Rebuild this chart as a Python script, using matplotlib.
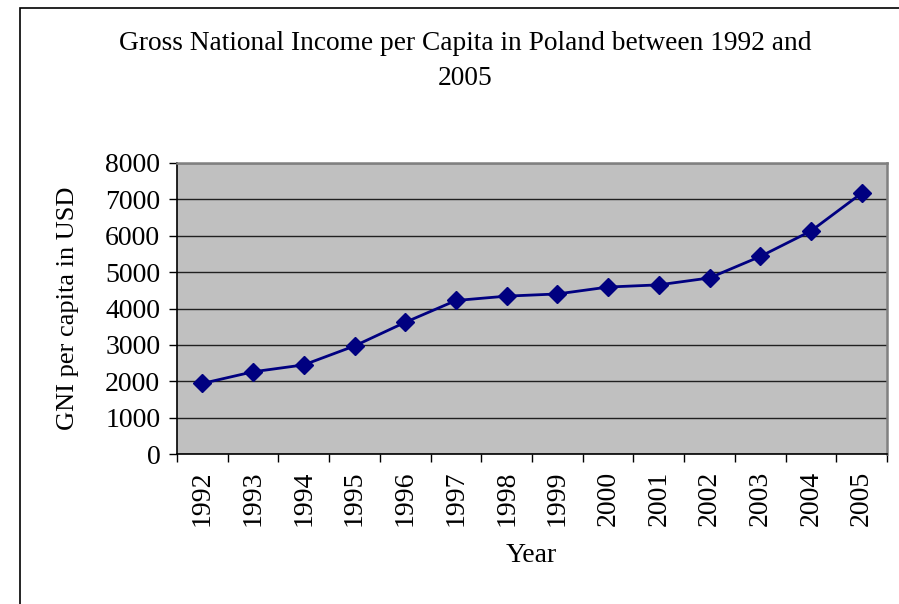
import matplotlib
matplotlib.use('Agg')
import matplotlib.pyplot as plt
from matplotlib.patches import Rectangle

# data
years = ['1992', '1993', '1994', '1995', '1996', '1997', '1998',
         '1999', '2000', '2001', '2002', '2003', '2004', '2005']
gni = [1940, 2260, 2450, 2970, 3620, 4220, 4340,
       4400, 4590, 4650, 4840, 5430, 6130, 7170]
y_ticks = [0, 1000, 2000, 3000, 4000, 5000, 6000, 7000, 8000]

plt.rcParams['font.family'] = ['Liberation Serif', 'DejaVu Serif']

fig = plt.figure(figsize=(8.99, 6.04), dpi=100)
W, H = 899, 604

# outer chart border (only left/top visible in the reference)
fig.patches.append(Rectangle((20 / W, -0.1), 2.0, 1 - 8 / H + 0.1,
                             transform=fig.transFigure, fill=False,
                             edgecolor='black', linewidth=1.2))

ax = fig.add_axes([177 / W, 1 - 454 / H, 710 / W, 291 / H])
ax.set_facecolor('#C0C0C0')

x = list(range(len(years)))
ax.plot(x, gni, color='#000080', linewidth=2.0, marker='D',
        markersize=9.5, markerfacecolor='#000080', markeredgecolor='#000080',
        zorder=3)

ax.set_xlim(-0.5, len(years) - 0.5)
ax.set_ylim(0, 8000)
ax.set_yticks(y_ticks)
ax.set_yticklabels([str(v) for v in y_ticks], fontsize=20)
ax.set_xticks(x)
ax.set_xticklabels(years, rotation=90, fontsize=20)
ax.set_xticks([i - 0.5 for i in range(len(years) + 1)], minor=True)

ax.tick_params(axis='x', which='major', length=0, pad=12)
ax.tick_params(axis='x', which='minor', length=6, direction='out', width=1)
ax.tick_params(axis='y', length=6, direction='out', width=1, pad=6)

ax.grid(axis='y', color='#202020', linewidth=1.0)
ax.set_axisbelow(True)

for side in ['top', 'right']:
    ax.spines[side].set_color('#808080')
    ax.spines[side].set_linewidth(1.8)
for side in ['left', 'bottom']:
    ax.spines[side].set_color('black')
    ax.spines[side].set_linewidth(1.2)

fig.text(465 / W, 1 - 61 / H,
         'Gross National Income per Capita in Poland between 1992 and\n2005',
         ha='center', va='center', fontsize=19.7, linespacing=1.5)
fig.text(68 / W, 1 - 308 / H, 'GNI per capita in USD', rotation=90,
         ha='center', va='center', fontsize=19)
fig.text(531 / W, 1 - 555 / H, 'Year', ha='center', va='center', fontsize=20)

fig.savefig('out.png', dpi=100)
